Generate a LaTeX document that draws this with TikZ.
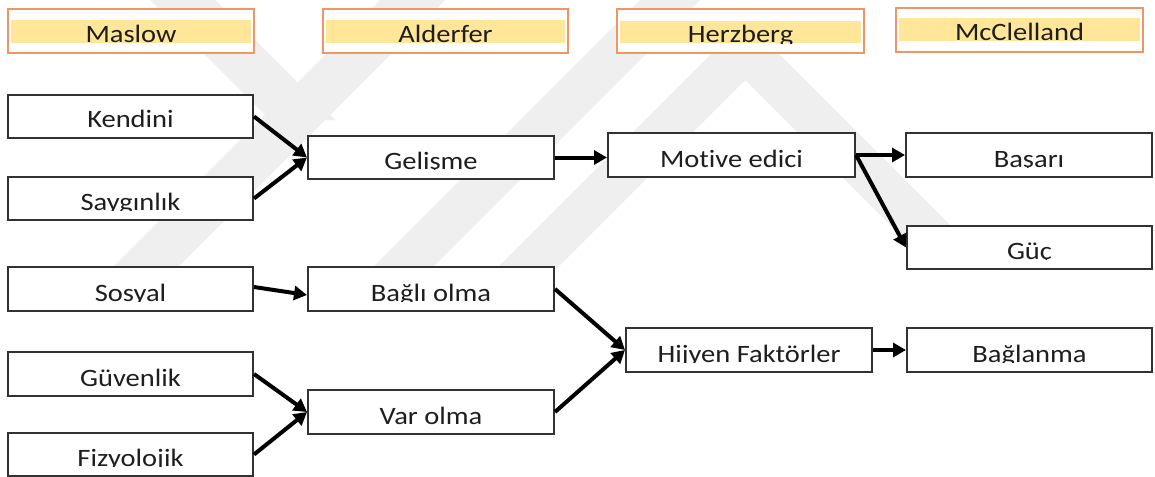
\documentclass[tikz,border=0pt]{standalone}
\usepackage{fontspec}
\setmainfont{Carlito}[Ligatures=NoCommon]
\usetikzlibrary{arrows.meta}

\definecolor{hdrline}{RGB}{240,150,100}
\definecolor{hdrfill}{RGB}{255,230,153}
\definecolor{boxline}{RGB}{50,50,50}
\definecolor{markgray}{RGB}{239,239,239}
\definecolor{ink}{RGB}{30,30,30}

\tikzset{
  hdr/.style={draw=hdrline, line width=2pt, fill=white, rectangle, inner sep=0pt},
  band/.style={fill=hdrfill, draw=none, rectangle, inner sep=0pt},
  cell/.style={draw=boxline, line width=2pt, fill=white, rectangle, inner sep=0pt},
  lbl/.style={inner sep=0pt, text=ink, font=\fontsize{25}{28}\selectfont},
  link/.style={draw=black, line width=4pt, -{Triangle[length=13pt,width=14pt]}},
}

% framed cell: name, x1, y1, x2, y2, text (text set on a baseline 10 units above the lower edge,
% cut off just under the baseline)
\newcommand\cellbox[6]{%
  \node[cell, minimum width={#4-#2}, minimum height={#5-#3}] (#1) at ({(#2+#4)/2},{(#3+#5)/2}) {};
  \begin{scope}
    \clip (#2,#5-9.3) rectangle (#4,#3);
    \node[lbl, anchor=base] (#1-t) at ({(#2+#4)/2},#5-10) {\scalebox{1.14}[1]{#6}};
  \end{scope}}

% column heading: name, x1, y1, x2, y2, band top, band bottom, text
\newcommand\headbox[8]{%
  \node[hdr, minimum width={#4-#2}, minimum height={#5-#3}] (#1) at ({(#2+#4)/2},{(#3+#5)/2}) {};
  \node[band, minimum width={#4-#2-6}, minimum height={#7-#6}] (#1-b) at ({(#2+#4)/2},{(#6+#7)/2}) {};
  \begin{scope}
    \clip (#1-b.south west) rectangle (#1-b.north east);
    \node[lbl, anchor=base] (#1-t) at ([yshift=0.5pt]#1-b.south) {\scalebox{1.14}[1]{#8}};
  \end{scope}}

\begin{document}
\begin{tikzpicture}[x=1pt,y=-1pt]
  \fill[white] (0,0) rectangle (1155,476);
  \useasboundingbox (0,0) rectangle (1155,476);

  % pale background emblem
  \begin{scope}
    \clip (0,0) rectangle (1155,270);
    \fill[markgray] (110,270) -- (175,270) -- (445,0) -- (380,0) -- cycle;
    \fill[markgray] (370,270) -- (430,270) -- (700,0) -- (640,0) -- cycle;
    \fill[markgray] (150,0) -- (215,0) -- (335,120) -- (270,120) -- cycle;
    \fill[markgray] (495,270) -- (745,20) -- (995,270) -- (935,270) -- (745,80) -- (555,270) -- cycle;
  \end{scope}

  % column headings
  \headbox{hmas}{8}{9}{254}{53}{20}{43}{Maslow}
  \headbox{hald}{323}{9}{568}{53}{20}{43}{Alderfer}
  \headbox{hher}{617}{9}{864}{53}{21}{43}{Herzberg}
  \headbox{hmcc}{896}{8}{1143}{52}{18}{41}{McClelland}

  % Maslow
  \cellbox{kend}{8}{95}{253}{138}{Kendini}
  \cellbox{say}{8}{177}{253}{220}{Saygınlık}
  \cellbox{sos}{8}{267}{253}{311}{Sosyal}
  \cellbox{guv}{8}{352}{253}{396}{Güvenlik}
  \cellbox{fiz}{8}{433}{253}{476}{Fizyolojik}

  % Alderfer
  \cellbox{gel}{308}{136}{554}{179}{Gelişme}
  \cellbox{bag}{308}{267}{554}{311}{Bağlı olma}
  \cellbox{var}{308}{390}{554}{434}{Var olma}

  % Herzberg
  \cellbox{mot}{608}{133}{855}{177}{Motive edici}
  \cellbox{hij}{626}{328}{872}{372}{Hijyen Faktörler}

  % McClelland
  \cellbox{bas}{906}{133}{1152}{177}{Başarı}
  \cellbox{guc}{907}{226}{1152}{269}{Güç}
  \cellbox{bgl}{907}{328}{1152}{372}{Bağlanma}

  % connectors
  \draw[link] (kend.east) -- (gel.west);
  \draw[link] (say.east) -- (gel.west);
  \draw[link] (gel.east) -- (gel.east -| mot.west);
  \draw[link] (mot.east) -- (bas.west);
  \draw[link] (mot.east) -- (guc.west);
  \draw[link] ([yshift=2pt]sos.east) -- ([yshift=-6pt]bag.west);
  \draw[link] (guv.east) -- (var.west);
  \draw[link] (fiz.east) -- (var.west);
  \draw[link] (bag.east) -- (hij.west);
  \draw[link] (var.east) -- (hij.west);
  \draw[link] (hij.east) -- (bgl.west);
\end{tikzpicture}
\end{document}
